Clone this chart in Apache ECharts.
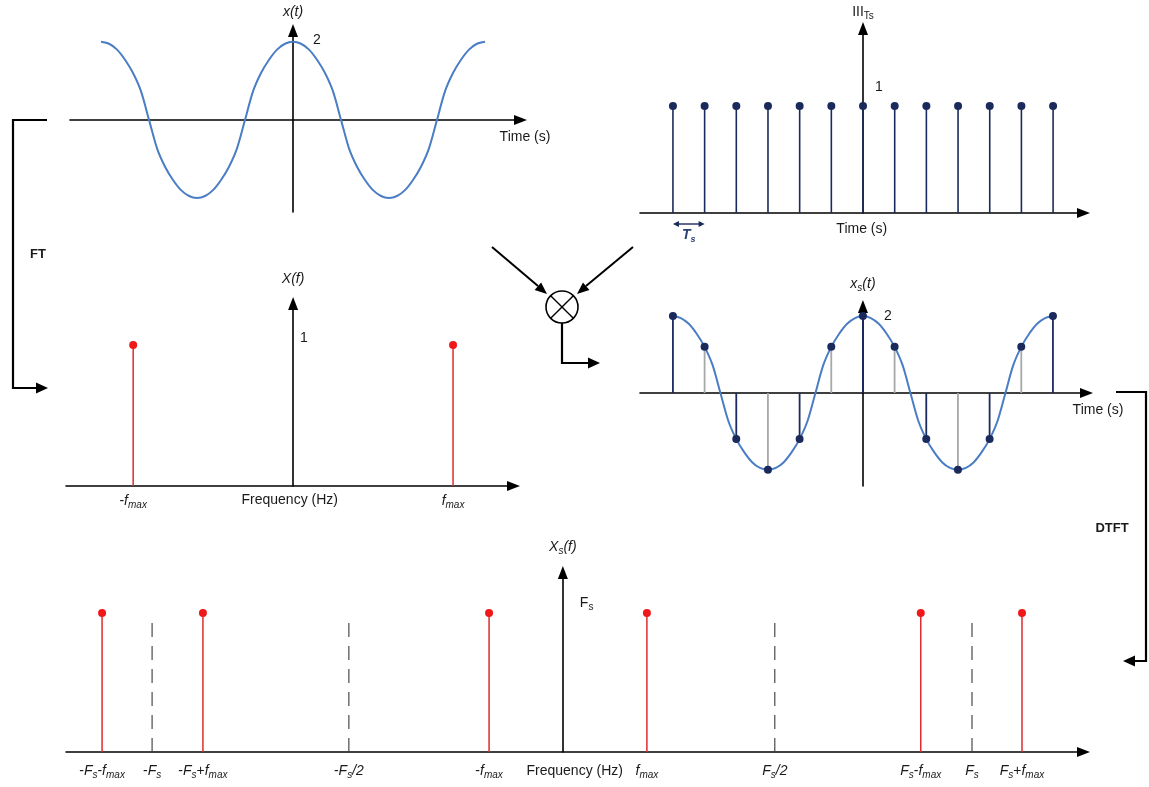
<!DOCTYPE html>
<html>
<head>
<meta charset="utf-8">
<script src="https://cdn.jsdelivr.net/npm/echarts@6/dist/echarts.min.js"></script>
<style>
  html, body { margin: 0; padding: 0; background: #fff; }
  #chart { width: 1149px; height: 787px; }
</style>
</head>
<body>
<div id="chart"></div>
<script>
// ---- Signal and spectrum values (time in units of Ts, frequency in units of Fs/10) ----
const signalT = [-6, -5.75, -5.5, -5.25, -5, -4.75, -4.5, -4.25, -4, -3.75, -3.5, -3.25,
                 -3, -2.75, -2.5, -2.25, -2, -1.75, -1.5, -1.25, -1, -0.75, -0.5, -0.25,
                 0, 0.25, 0.5, 0.75, 1, 1.25, 1.5, 1.75, 2, 2.25, 2.5, 2.75,
                 3, 3.25, 3.5, 3.75, 4, 4.25, 4.5, 4.75, 5, 5.25, 5.5, 5.75, 6];
const signalX = [2, 1.95, 1.8, 1.54, 1.2, 0.73, 0, -0.73, -1.2, -1.54, -1.8, -1.95,
                 -2, -1.95, -1.8, -1.54, -1.2, -0.73, 0, 0.73, 1.2, 1.54, 1.8, 1.95,
                 2, 1.95, 1.8, 1.54, 1.2, 0.73, 0, -0.73, -1.2, -1.54, -1.8, -1.95,
                 -2, -1.95, -1.8, -1.54, -1.2, -0.73, 0, 0.73, 1.2, 1.54, 1.8, 1.95, 2];
const peakLabels = [2];

const combT = [-6, -5, -4, -3, -2, -1, 0, 1, 2, 3, 4, 5, 6];
const combH = [1, 1, 1, 1, 1, 1, 1, 1, 1, 1, 1, 1, 1];
const combLabels = [1];

const sampleT = [-6, -5, -4, -3, -2, -1, 0, 1, 2, 3, 4, 5, 6];
const sampleX = [2, 1.2, -1.2, -2, -1.2, 1.2, 2, 1.2, -1.2, -2, -1.2, 1.2, 2];

const specF = [-1, 1];
const specH = [1, 1];
const specTickLabels = ['{n|-}{i|f}{s|max}', '{i|f}{s|max}'];
const specLabels = [1];

const aliasF = [-11.24, -8.78, -1.8, 2.05, 8.73, 11.2];
const aliasH = [1, 1, 1, 1, 1, 1];
const guideF = [-10.02, -5.22, 5.17, 9.98];
const guideH = [0.96, 0.96, 0.96, 0.96];
const freqTicks = [-11.24, -10.02, -8.78, -5.22, -1.8, 2.05, 5.17, 8.73, 9.98, 11.2];
const freqTickLabels = [
  '{n|-}{i|F}{s|s}{n|-}{i|f}{s|max}',
  '{n|-}{i|F}{s|s}',
  '{n|-}{i|F}{s|s}{n|+}{i|f}{s|max}',
  '{n|-}{i|F}{s|s}{i|/2}',
  '{n|-}{i|f}{s|max}',
  '{i|f}{s|max}',
  '{i|F}{s|s}{i|/2}',
  '{i|F}{s|s}{n|-}{i|f}{s|max}',
  '{i|F}{s|s}',
  '{i|F}{s|s}{n|+}{i|f}{s|max}'
];
const aliasLevel = [1];
const aliasLabels = ['{n|F}{u|s}'];

// ---- Styling ----
const FONT = '"Liberation Sans", Arial, Helvetica, sans-serif';
const INK = '#1a1a1a';
const BLUE = '#4a7dc4';
const NAVY = '#1b2a5c';
const GREY = '#a8a8a8';
const RED_STEM = '#dd2c2c';
const RED_DOT = '#f01818';

function richSet(size, sub, color, key) {
  const c = {}; c[key] = color;
  return {
    n: Object.assign({ fontSize: size, fontFamily: FONT, lineHeight: size + 3, verticalAlign: 'top' }, c),
    i: Object.assign({ fontSize: size, fontFamily: FONT, fontStyle: 'italic', lineHeight: size + 3, verticalAlign: 'top' }, c),
    s: Object.assign({ fontSize: sub, fontFamily: FONT, fontStyle: 'italic', lineHeight: sub + 1, padding: [Math.round(size * 0.45), 0, 0, 0], verticalAlign: 'top' }, c),
    u: Object.assign({ fontSize: sub, fontFamily: FONT, lineHeight: sub + 1, padding: [Math.round(size * 0.45), 0, 0, 0], verticalAlign: 'top' }, c)
  };
}
const RNAME = richSet(14, 10, INK, 'color');
const RTICK = richSet(14, 10, INK, 'color');
const RVAL = richSet(14, 10, INK, 'fill');

const zip = (a, b) => a.map((v, k) => [v, b[k]]);

const axisLineBase = {
  onZero: true,
  symbol: ['none', 'triangle'],
  symbolSize: [10, 13],
  lineStyle: { color: '#000', width: 1.6 }
};

function axisOf(g, min, max, extra) {
  return Object.assign({
    type: 'value', gridIndex: g, min: min, max: max,
    axisLine: axisLineBase,
    axisTick: { show: false },
    splitLine: { show: false },
    axisLabel: { show: false },
    nameMoveOverlap: false
  }, extra || {});
}

const timeName = (gap, loc) => ({
  name: 'Time (s)', nameLocation: loc, nameGap: gap,
  nameTextStyle: loc === 'end'
    ? { fontFamily: FONT, fontSize: 14, color: INK, align: 'center', verticalAlign: 'top', padding: [10, 0, 0, 0] }
    : { fontFamily: FONT, fontSize: 14, color: INK }
});

const yName = (text, gap) => ({
  name: text, nameLocation: 'end', nameGap: gap,
  nameTextStyle: { rich: RNAME, align: 'center' }
});

// stem drawn from zero up to the value, with an optional dot on top
function stemItem(colorOf, width, dotColor, r, dash) {
  return function (params, api) {
    const x = api.value(0), y = api.value(1);
    const p0 = api.coord([x, 0]), p1 = api.coord([x, y]);
    const style = { stroke: colorOf(params.dataIndex), lineWidth: width };
    if (dash) style.lineDash = dash;
    const kids = [{ type: 'line', shape: { x1: p0[0], y1: p0[1], x2: p1[0], y2: p1[1] }, style: style }];
    if (dotColor) kids.push({ type: 'circle', shape: { cx: p1[0], cy: p1[1], r: r }, style: { fill: dotColor } });
    return { type: 'group', children: kids };
  };
}

// amplitude annotation placed beside the vertical axis at the given level
function levelLabel(g, values, texts, distance, lift) {
  return {
    type: 'custom', xAxisIndex: g, yAxisIndex: g, silent: true, z: 5,
    data: values.map(v => [0, v]), encode: { x: 0, y: 1 },
    renderItem: function (params, api) {
      const p = api.coord([api.value(0), api.value(1)]);
      return {
        type: 'text', x: p[0] + distance, y: p[1] - lift,
        style: { text: texts[params.dataIndex], rich: RVAL, fill: INK,
          font: '14px ' + FONT, align: 'left', verticalAlign: 'middle' }
      };
    }
  };
}

// double-headed arrow marking one sampling period below the time axis
function periodMarker(params, api) {
  const a = api.coord([api.value(0), 0]);
  const b = api.coord([api.value(1), 0]);
  const y = a[1] + 11;
  const h = 6, w = 3;
  return {
    type: 'group',
    children: [
      { type: 'line', shape: { x1: a[0] + 2, y1: y, x2: b[0] - 2, y2: y }, style: { stroke: NAVY, lineWidth: 1.4 } },
      { type: 'polygon', shape: { points: [[a[0], y], [a[0] + h, y - w], [a[0] + h, y + w]] }, style: { fill: NAVY } },
      { type: 'polygon', shape: { points: [[b[0], y], [b[0] - h, y - w], [b[0] - h, y + w]] }, style: { fill: NAVY } },
      { type: 'text', x: (a[0] + b[0]) / 2, y: y + 4,
        style: { text: '{t|T}{s|s}', align: 'center', verticalAlign: 'top',
          rich: {
            t: { fontSize: 14, fontFamily: FONT, fontStyle: 'italic', fontWeight: 'bold', fill: '#2b3f73', lineHeight: 16, verticalAlign: 'top' },
            s: { fontSize: 9, fontFamily: FONT, fontStyle: 'italic', fontWeight: 'bold', fill: '#2b3f73', lineHeight: 10, padding: [7, 0, 0, 0], verticalAlign: 'top' }
          } } }
    ]
  };
}

// flow arrows between the panels
function head(tip, from, len, half) {
  const dx = tip[0] - from[0], dy = tip[1] - from[1];
  const d = Math.hypot(dx, dy), ux = dx / d, uy = dy / d;
  const bx = tip[0] - ux * len, by = tip[1] - uy * len;
  return {
    type: 'polygon',
    shape: { points: [tip, [bx - uy * half, by + ux * half], [bx + uy * half, by - ux * half]] },
    style: { fill: '#000' }
  };
}
function path(points, width) {
  return { type: 'polyline', shape: { points: points }, style: { stroke: '#000', lineWidth: width, fill: null } };
}
const cx = 562, cy = 307, cr = 16, cd = cr * 0.707;
const flow = [
  path([[47, 120], [13, 120], [13, 388], [37, 388]], 2.2),
  head([48, 388], [13, 388], 12, 5.5),
  { type: 'text', x: 38, y: 254, style: { text: 'FT', font: 'bold 13px ' + FONT, fill: INK, align: 'center', verticalAlign: 'middle' } },
  path([[492, 247], [538, 286]], 2),
  head([547, 294], [492, 247], 12, 5),
  path([[633, 247], [586, 286]], 2),
  head([577, 294], [633, 247], 12, 5),
  { type: 'circle', shape: { cx: cx, cy: cy, r: cr }, style: { stroke: '#000', lineWidth: 1.6, fill: '#fff' } },
  path([[cx - cd, cy - cd], [cx + cd, cy + cd]], 1.4),
  path([[cx + cd, cy - cd], [cx - cd, cy + cd]], 1.4),
  path([[cx, cy + cr], [cx, 363], [589, 363]], 2.2),
  head([600, 363], [cx, 363], 12, 5.5),
  path([[1116, 392], [1146, 392], [1146, 661], [1134, 661]], 2.2),
  head([1123, 661], [1146, 661], 12, 5.5),
  { type: 'text', x: 1112, y: 528, style: { text: 'DTFT', font: 'bold 13px ' + FONT, fill: INK, align: 'center', verticalAlign: 'middle' } }
];

const chart = echarts.init(document.getElementById('chart'), null, { renderer: 'canvas' });

chart.setOption({
  animation: false,
  backgroundColor: '#fff',
  grid: [
    { left: 70, top: 30.5, width: 450.5, height: 181.5, outerBoundsMode: 'none' },
    { left: 640, top: 28.5, width: 443.5, height: 184.5, outerBoundsMode: 'none' },
    { left: 640, top: 306.5, width: 446.5, height: 179.5, outerBoundsMode: 'none' },
    { left: 66, top: 303.5, width: 447.5, height: 182.5, outerBoundsMode: 'none' },
    { left: 66, top: 572.5, width: 1017.5, height: 179.5, outerBoundsMode: 'none' }
  ],
  xAxis: [
    axisOf(0, -6.97, 7.11, timeName(4.5, 'end')),
    axisOf(1, -7.04, 6.96, timeName(9, 'middle')),
    axisOf(2, -7.04, 7.06, timeName(11.5, 'end')),
    axisOf(3, -1.42, 1.378, {
      name: 'Frequency (Hz)', nameLocation: 'middle', nameGap: 7,
      nameTextStyle: { fontFamily: FONT, fontSize: 14, color: INK },
      axisLabel: { show: true, customValues: specF, margin: 8, rich: RTICK,
        formatter: v => specTickLabels[specF.indexOf(v)] }
    }),
    axisOf(4, -12.12, 12.70, {
      name: 'Frequency (Hz)', nameLocation: 'middle', nameGap: 12,
      nameTextStyle: { fontFamily: FONT, fontSize: 14, color: INK },
      axisLabel: { show: true, customValues: freqTicks, margin: 12, rich: RTICK,
        formatter: v => freqTickLabels[freqTicks.indexOf(v)] }
    })
  ],
  yAxis: [
    axisOf(0, -2.36, 2.29, yName('{i|x(t)}', 8)),
    axisOf(1, 0, 1.724, yName('{n|III}{u|Ts}', 6)),
    axisOf(2, -2.42, 2.25, yName('{i|x}{s|s}{i|(t)}', 12)),
    axisOf(3, 0, 1.294, yName('{i|X(f)}', 14)),
    axisOf(4, 0, 1.291, yName('{i|X}{s|s}{i|(f)}', 15))
  ],
  series: [
    // x(t)
    { type: 'line', xAxisIndex: 0, yAxisIndex: 0, data: zip(signalT, signalX), smooth: 0.3,
      showSymbol: false, silent: true, lineStyle: { color: BLUE, width: 2 } },
    levelLabel(0, peakLabels, peakLabels.map(String), 20, 2),
    // impulse train
    { type: 'custom', xAxisIndex: 1, yAxisIndex: 1, data: zip(combT, combH), encode: { x: 0, y: 1 },
      silent: true, renderItem: stemItem(() => NAVY, 1.6, NAVY, 4) },
    { type: 'custom', xAxisIndex: 1, yAxisIndex: 1, data: [[combT[0], combT[1], 0]], encode: { x: [0, 1], y: 2 },
      silent: true, renderItem: periodMarker },
    levelLabel(1, combLabels, combLabels.map(String), 12, 19),
    // sampled signal
    { type: 'custom', xAxisIndex: 2, yAxisIndex: 2, data: zip(sampleT, sampleX), encode: { x: 0, y: 1 },
      silent: true, z: 1,
      renderItem: stemItem(i => (i % 2 === 0 ? NAVY : GREY), 1.8, null, 0) },
    { type: 'line', xAxisIndex: 2, yAxisIndex: 2, data: zip(signalT, signalX), smooth: 0.3, z: 2,
      showSymbol: false, silent: true, lineStyle: { color: BLUE, width: 2 } },
    { type: 'scatter', xAxisIndex: 2, yAxisIndex: 2, data: zip(sampleT, sampleX), z: 3,
      symbolSize: 8, silent: true, itemStyle: { color: NAVY, opacity: 1 } },
    levelLabel(2, peakLabels, peakLabels.map(String), 21, 0),
    // X(f)
    { type: 'custom', xAxisIndex: 3, yAxisIndex: 3, data: zip(specF, specH), encode: { x: 0, y: 1 },
      silent: true, renderItem: stemItem(() => RED_STEM, 1.5, RED_DOT, 4) },
    levelLabel(3, specLabels, specLabels.map(String), 7, 7),
    // Xs(f)
    { type: 'custom', xAxisIndex: 4, yAxisIndex: 4, data: zip(guideF, guideH), encode: { x: 0, y: 1 },
      silent: true, renderItem: stemItem(() => '#3a3a3a', 1.1, null, 0, [14, 9]) },
    { type: 'custom', xAxisIndex: 4, yAxisIndex: 4, data: zip(aliasF, aliasH), encode: { x: 0, y: 1 },
      silent: true, renderItem: stemItem(() => RED_STEM, 1.5, RED_DOT, 4) },
    levelLabel(4, aliasLevel, aliasLabels, 17, 8)
  ],
  graphic: flow
});
</script>
</body>
</html>
